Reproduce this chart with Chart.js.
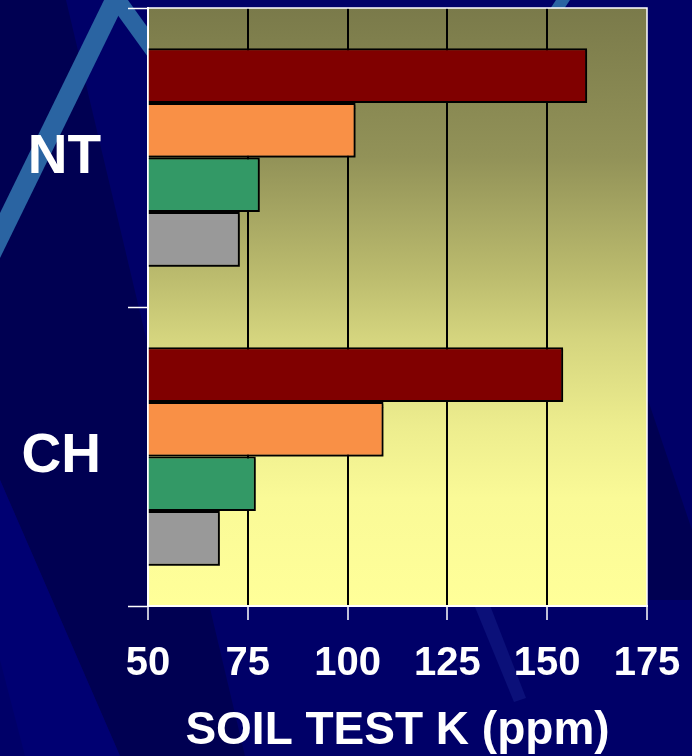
<!DOCTYPE html>
<html>
<head>
<meta charset="utf-8">
<script src="https://cdn.jsdelivr.net/npm/chart.js@4.4.1/dist/chart.umd.min.js"></script>
<style>
  html, body { margin: 0; padding: 0; background: #000066; }
  canvas { display: block; }
</style>
</head>
<body>
<canvas id="grafico" width="692" height="756"></canvas>
<script>
// dados (ppm de K no solo)
const categorias = ['NT', 'CH'];
const serieVermelha = [160, 154];
const serieLaranja = [102, 109];
const serieVerde = [78, 77];
const serieCinza = [73, 68];
const ticksX = [50, 75, 100, 125, 150, 175];
const tituloX = 'SOIL TEST K (ppm)';

const FONTE = 'Liberation Sans, Arial, sans-serif';

function poligono(ctx, cor, pts) {
  ctx.fillStyle = cor;
  ctx.beginPath();
  ctx.moveTo(pts[0][0], pts[0][1]);
  pts.slice(1).forEach((p) => ctx.lineTo(p[0], p[1]));
  ctx.closePath();
  ctx.fill();
}

// fundo do slide (azul com faixas) + gradiente da área do gráfico
const fundo = {
  id: 'fundo',
  beforeDraw(chart) {
    const { ctx, width: w, height: h, chartArea: a } = chart;
    ctx.save();
    ctx.fillStyle = '#000068';
    ctx.fillRect(0, 0, w, h);
    poligono(ctx, '#000052', [[0, 0], [66, 0], [245, h], [120, h], [0, 480]]);
    poligono(ctx, '#000072', [[0, 480], [120, h], [25, h], [0, 660]]);
    poligono(ctx, '#000052', [[648, 400], [692, 530], [692, 600], [648, 600]]);
    poligono(ctx, 'rgba(70,100,210,0.16)', [[468, 590], [484, 590], [526, 698], [514, 702]]);
    // faixa azul clara em "^"
    poligono(ctx, '#2a64a2', [[106, -4], [128, -4], [-2, 262], [-24, 262]]);
    poligono(ctx, '#2a64a2', [[104, -4], [125, -4], [200, 100], [179, 100]]);
    poligono(ctx, '#2a64a2', [[556, 0], [570, 0], [562, 12], [548, 12]]);

    const g = ctx.createLinearGradient(0, a.top, 0, a.bottom);
    g.addColorStop(0, '#7a7a4a');
    g.addColorStop(0.25, '#929258');
    g.addColorStop(0.45, '#bcbc6e');
    g.addColorStop(0.55, '#d4d47e');
    g.addColorStop(0.7, '#eded8e');
    g.addColorStop(0.82, '#fafa97');
    g.addColorStop(1, '#ffff99');
    ctx.fillStyle = g;
    ctx.fillRect(a.left, a.top, a.right - a.left, a.bottom - a.top);
    ctx.restore();
  },
  beforeDatasetsDraw(chart) {
    const ctx = chart.ctx;
    ctx.shadowColor = 'rgba(0,0,0,0.45)';
    ctx.shadowOffsetX = 2;
    ctx.shadowOffsetY = 2;
    ctx.shadowBlur = 1;
  },
  afterDatasetsDraw(chart) {
    const ctx = chart.ctx;
    ctx.shadowColor = 'rgba(0,0,0,0)';
    ctx.shadowOffsetX = 0;
    ctx.shadowOffsetY = 0;
    ctx.shadowBlur = 0;
  },
  afterDraw(chart) {
    const { ctx, chartArea: a } = chart;
    ctx.save();
    ctx.strokeStyle = '#ffffff';
    ctx.lineWidth = 1.5;
    ctx.strokeRect(a.left, a.top, a.right - a.left, a.bottom - a.top);
    ctx.restore();
  }
};

const bordas = ticksX[0];
const fim = ticksX[ticksX.length - 1];

new Chart(document.getElementById('grafico'), {
  type: 'bar',
  data: {
    labels: categorias,
    datasets: [
      { label: 'Série 1', data: serieVermelha, backgroundColor: '#800000' },
      { label: 'Série 2', data: serieLaranja, backgroundColor: '#f99046' },
      { label: 'Série 3', data: serieVerde, backgroundColor: '#339966' },
      { label: 'Série 4', data: serieCinza, backgroundColor: '#999999' }
    ]
  },
  options: {
    indexAxis: 'y',
    responsive: false,
    animation: false,
    devicePixelRatio: 1,
    layout: { padding: { top: 8, right: 45, bottom: 0, left: 0 } },
    datasets: {
      bar: {
        borderColor: '#000000',
        borderWidth: 2,
        borderSkipped: 'start',
        barPercentage: 1,
        categoryPercentage: 0.73
      }
    },
    plugins: {
      legend: { display: false },
      tooltip: { enabled: false }
    },
    scales: {
      x: {
        type: 'linear',
        min: bordas,
        max: fim,
        ticks: {
          stepSize: ticksX[1] - ticksX[0],
          color: '#ffffff',
          padding: 20,
          font: { family: FONTE, size: 40, weight: 'bold' }
        },
        grid: {
          color: (c) => (c.tick && (c.tick.value === bordas || c.tick.value === fim)) ? 'rgba(0,0,0,0)' : '#000000',
          lineWidth: 2,
          tickColor: '#ffffff',
          tickLength: 14,
          tickWidth: 1.5
        },
        border: { color: '#ffffff', width: 2 },
        title: {
          display: true,
          text: tituloX,
          color: '#ffffff',
          padding: { top: 0, bottom: -3 },
          font: { family: FONTE, size: 46, weight: 'bold' }
        },
        afterFit: (s) => {
          s.height = 150;
          s.paddingLeft = 0;
          s.paddingRight = 0;
        }
      },
      y: {
        type: 'category',
        ticks: {
          color: '#ffffff',
          padding: 27,
          font: { family: FONTE, size: 55, weight: 'bold' }
        },
        grid: {
          offset: true,
          drawOnChartArea: false,
          tickColor: '#ffffff',
          tickLength: 20,
          tickWidth: 1.5
        },
        border: { color: '#ffffff', width: 2 },
        afterFit: (s) => {
          // os rótulos grandes empurram a área do gráfico para baixo; zera esse recuo
          s.width = 148;
          s.paddingTop = 0;
          s.paddingBottom = 0;
        }
      }
    }
  },
  plugins: [fundo]
});
</script>
</body>
</html>
